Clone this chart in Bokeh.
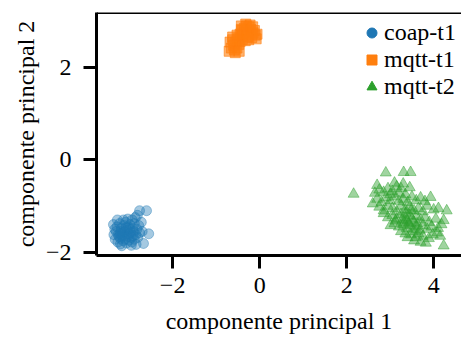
from bokeh.plotting import figure
from bokeh.models import Range1d, FixedTicker, CustomJSTickFormatter, Span, Legend, LegendItem
from bokeh.embed import file_html
from bokeh.resources import INLINE

# ---- data ----
coap_x = [-3.30, -3.25, -3.20, -3.15, -3.10, -3.05, -3.00, -2.95, -2.90, -2.85,
          -3.28, -3.22, -3.18, -3.12, -3.08, -3.02, -2.98, -2.92, -2.88, -2.82,
          -3.32, -3.26, -3.20, -3.14, -3.06, -3.00, -2.94, -2.88, -2.80, -2.76,
          -3.35, -3.33, -3.16, -3.11, -3.04, -2.97, -3.19, -3.09, -2.99, -3.23,
          -3.13, -3.03, -2.93, -2.86, -2.78, -2.72, -2.76, -2.60, -2.55, -2.67,
          -2.70, -2.84, -3.17, -3.27, -3.36, -2.91, -3.07, -3.21, -2.95, -2.81]
coap_y = [-1.55, -1.62, -1.70, -1.58, -1.65, -1.52, -1.60, -1.68, -1.55, -1.62,
          -1.45, -1.38, -1.48, -1.42, -1.35, -1.45, -1.40, -1.48, -1.38, -1.50,
          -1.72, -1.78, -1.82, -1.75, -1.80, -1.74, -1.78, -1.72, -1.68, -1.58,
          -1.62, -1.50, -1.64, -1.56, -1.66, -1.57, -1.55, -1.72, -1.50, -1.66,
          -1.30, -1.28, -1.30, -1.25, -1.42, -1.35, -1.10, -1.10, -1.60, -1.81,
          -1.55, -1.83, -1.86, -1.30, -1.40, -1.64, -1.47, -1.60, -1.85, -1.20]

mqtt1_x = [-0.40, -0.35, -0.30, -0.25, -0.20, -0.15, -0.10, -0.45, -0.38, -0.28,
           -0.22, -0.32, -0.42, -0.18, -0.12, -0.08, -0.50, -0.55, -0.48, -0.60,
           -0.65, -0.58, -0.52, -0.68, -0.62, -0.45, -0.40, -0.33, -0.70, -0.56,
           -0.47, -0.36, -0.26, -0.30, -0.16, -0.06, -0.42, -0.52, -0.62, -0.25]
mqtt1_y = [2.80, 2.85, 2.78, 2.88, 2.82, 2.75, 2.70, 2.72, 2.68, 2.66,
           2.92, 2.94, 2.90, 2.65, 2.80, 2.62, 2.62, 2.55, 2.50, 2.48,
           2.42, 2.38, 2.42, 2.55, 2.60, 2.56, 2.60, 2.58, 2.35, 2.32,
           2.35, 2.75, 2.72, 2.90, 2.88, 2.72, 2.82, 2.70, 2.66, 2.60]

mqtt2_x = [2.65, 2.75, 2.85, 2.95, 3.05, 3.15, 3.25, 3.35, 2.70, 2.80,
           2.90, 3.00, 3.10, 3.20, 3.30, 3.40, 3.50, 3.60, 3.70, 3.80,
           3.93, 2.60, 2.75, 2.85, 2.95, 3.05, 3.15, 3.25, 3.35, 3.45,
           3.55, 3.65, 3.75, 3.85, 4.00, 4.11, 4.30, 2.85, 2.95, 3.05,
           3.15, 3.25, 3.35, 3.40, 3.45, 3.50, 3.55, 3.60, 3.70, 3.80,
           3.90, 4.05, 4.23, 3.01, 3.10, 3.20, 3.30, 3.38, 3.45, 3.52,
           3.60, 3.68, 3.75, 3.85, 3.95, 4.10, 4.18, 3.25, 3.35, 3.40,
           3.48, 3.59, 3.65, 3.75, 3.89, 3.98, 4.08, 4.15, 4.23, 3.55,
           3.70, 3.82, 2.16, 2.90, 3.31, 3.47, 3.10, 3.30, 2.70, 3.45,
           3.20, 3.00, 3.28, 3.36, 3.42, 3.32, 3.48, 3.12, 3.58, 3.62]
mqtt2_y = [-0.72, -0.65, -0.70, -0.62, -0.68, -0.58, -0.62, -0.75, -0.85, -0.92,
           -0.82, -0.88, -0.80, -0.90, -0.85, -0.92, -0.80, -0.88, -0.82, -0.90,
           -0.81, -0.95, -1.02, -1.10, -1.00, -1.05, -1.12, -1.00, -1.08, -1.02,
           -1.10, -1.05, -1.12, -1.00, -1.08, -1.05, -1.10, -1.16, -1.25, -1.20,
           -1.28, -1.18, -1.25, -1.32, -1.20, -1.28, -1.35, -1.22, -1.30, -1.25,
           -1.35, -1.28, -1.31, -1.42, -1.38, -1.45, -1.40, -1.48, -1.42, -1.50,
           -1.45, -1.52, -1.42, -1.50, -1.45, -1.48, -1.40, -1.55, -1.60, -1.68,
           -1.62, -1.68, -1.60, -1.65, -1.70, -1.62, -1.58, -1.65, -1.86, -1.75,
           -1.78, -1.80, -0.74, -0.28, -0.27, -0.27, -0.50, -0.52, -0.55, -0.60,
           -0.72, -0.75, -1.30, -1.15, -1.38, -1.35, -1.10, -1.32, -1.55, -1.38]

labels = ["coap-t1", "mqtt-t1", "mqtt-t2"]
colors = ["#1f77b4", "#ff7f0e", "#2ca02c"]
x_ticks = [-2, 0, 2, 4]
y_ticks = [-2, 0, 2]
x_label = "componente principal 1"
y_label = "componente principal 2"

FONT = "Liberation Serif"
FS = "24px"

p = figure(width=461, height=339, output_backend="svg", toolbar_location=None,
           x_range=Range1d(-3.75, 4.64), y_range=Range1d(-2.07, 3.19),
           min_border_left=96, min_border_right=0, min_border_top=12, min_border_bottom=84)
p.outline_line_color = None
p.grid.visible = False
p.background_fill_color = "white"

fmt = CustomJSTickFormatter(code="return tick < 0 ? '\\u2212' + Math.abs(tick) : String(tick);")
for ax, ticks, lab in ((p.xaxis[0], x_ticks, x_label), (p.yaxis[0], y_ticks, y_label)):
    ax.ticker = FixedTicker(ticks=ticks)
    ax.formatter = fmt
    ax.minor_tick_line_color = None
    ax.major_tick_in = 0
    ax.major_tick_out = 13
    ax.major_tick_line_width = 3
    ax.axis_line_width = 3
    ax.major_label_text_font = FONT
    ax.major_label_text_font_size = FS
    ax.major_label_text_color = "black"
    ax.axis_label = lab
    ax.axis_label_text_font = FONT
    ax.axis_label_text_font_size = FS
    ax.axis_label_text_font_style = "normal"
    ax.axis_label_text_color = "black"
p.xaxis[0].major_label_standoff = 9
p.xaxis[0].axis_label_standoff = 12
p.yaxis[0].major_label_standoff = 12
p.yaxis[0].axis_label_standoff = 4

p.add_layout(Span(location=3.19, dimension="width", line_color="black", line_width=3))
p.add_layout(Span(location=4.64, dimension="height", line_color="#cccccc", line_width=1))

src = [(coap_x, coap_y), (mqtt1_x, mqtt1_y), (mqtt2_x, mqtt2_y)]
markers = ["circle", "square", "triangle"]
sizes = [10, 10, 11]
alphas = [0.4, 0.6, 0.45]
items = []
for (xs, ys), m, c, s, a, lab in zip(src, markers, colors, sizes, alphas, labels):
    p.scatter(xs, ys, marker=m, size=s, fill_color=c, line_color=c, fill_alpha=a, line_alpha=a)
    dummy = p.scatter(x=[-100], y=[-100], marker=m, size=s, fill_color=c, line_color=c)
    items.append(LegendItem(label=lab, renderers=[dummy]))

leg = Legend(items=items, location=(263, 155), margin=0, padding=4, spacing=0,
             label_height=25, glyph_height=25, glyph_width=25, label_standoff=0,
             label_text_font=FONT, label_text_font_size=FS, label_text_color="black",
             background_fill_alpha=0, border_line_color=None)
p.add_layout(leg)

open("out.html", "w").write(file_html(p, INLINE))
